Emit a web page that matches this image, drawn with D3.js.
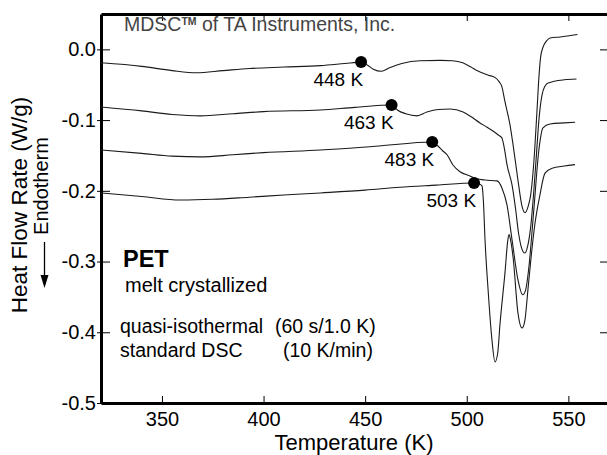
<!DOCTYPE html>
<html>
<head>
<meta charset="utf-8">
<script src="https://cdn.jsdelivr.net/npm/d3@7"></script>
<style>
  html, body { margin: 0; padding: 0; background: #fff; }
  svg { display: block; font-family: "Liberation Sans", Arial, sans-serif; }
</style>
</head>
<body>
<svg id="chart" width="607" height="455"></svg>
<script>
// ---------------- data ----------------
const curve448 = [[320,-0.019],[340,-0.024],[355,-0.030],[367,-0.033],[380,-0.030],[393,-0.027],[410,-0.025],[428,-0.023],[440,-0.020],[448,-0.018],[451,-0.022],[454,-0.028],[458,-0.031],[462,-0.026],[468,-0.020],[477,-0.016],[487,-0.0155],[493,-0.016],[498,-0.019],[502,-0.025],[505,-0.030],[510,-0.036],[514,-0.040],[516,-0.046],[517.3,-0.053],[518.8,-0.074],[521.3,-0.107],[522.8,-0.135],[525.2,-0.185],[527.2,-0.222],[528.7,-0.231],[530.2,-0.222],[531.5,-0.205],[533,-0.16],[534.5,-0.09],[535.5,-0.04],[536.3,-0.012],[537.5,0.003],[539,0.011],[541,0.016],[546,0.0175],[554.5,0.021]];
const curve463 = [[320,-0.0815],[340,-0.087],[355,-0.092],[369,-0.094],[385,-0.091],[400,-0.088],[428,-0.0857],[445,-0.082],[463.2,-0.0787],[466,-0.086],[470,-0.091],[475.5,-0.094],[480.4,-0.0886],[486,-0.085],[491.8,-0.0843],[498.2,-0.0886],[502,-0.095],[506.5,-0.104],[510,-0.110],[512.9,-0.1155],[515.5,-0.121],[517.3,-0.1253],[518.5,-0.14],[519.8,-0.163],[522.3,-0.192],[524,-0.225],[525.5,-0.26],[527,-0.281],[528.6,-0.288],[530,-0.278],[531.5,-0.25],[533,-0.2],[534.5,-0.14],[535.5,-0.1],[537,-0.065],[538.5,-0.052],[540,-0.0476],[548,-0.043],[554,-0.042]];
const curve483 = [[320,-0.1423],[340,-0.147],[355,-0.151],[369,-0.152],[385,-0.149],[400,-0.146],[428,-0.1423],[455,-0.137],[483.4,-0.131],[485.8,-0.1366],[488,-0.143],[490.3,-0.149],[493.2,-0.1635],[496.7,-0.173],[501.6,-0.179],[505,-0.183],[509,-0.1848],[514.9,-0.186],[517.3,-0.196],[519.8,-0.22],[522.3,-0.2695],[525.2,-0.326],[527.5,-0.347],[529,-0.34],[530.5,-0.31],[533,-0.227],[535.5,-0.142],[537.5,-0.111],[541,-0.1055],[548,-0.104],[553.3,-0.103]];
const curve503 = [[320,-0.203],[340,-0.208],[359,-0.213],[375,-0.212],[393,-0.209],[410,-0.206],[428,-0.203],[450,-0.199],[467,-0.195],[485,-0.192],[503.6,-0.189],[506,-0.190],[507.5,-0.193],[508.2,-0.215],[509,-0.270],[510.5,-0.340],[512.4,-0.411],[513.9,-0.442],[515.2,-0.43],[516.4,-0.387],[518.8,-0.316],[520.2,-0.27],[520.8,-0.262],[521.6,-0.27],[522.8,-0.294],[525.2,-0.373],[527.2,-0.394],[528.5,-0.385],[530.1,-0.340],[531.8,-0.29],[533.6,-0.2455],[536,-0.206],[538.5,-0.175],[542,-0.168],[548,-0.165],[553.3,-0.163]];

const dotTemps  = [448, 463, 483, 503.6];
const dotValues = [-0.018, -0.0787, -0.131, -0.189];
const dotLabels = ["448 K", "463 K", "483 K", "503 K"];

const xMajorTicks = [350, 400, 450, 500, 550];
const xMinorTicks = [330, 340, 360, 370, 380, 390, 410, 420, 430, 440, 460, 470, 480, 490, 510, 520, 530, 540, 560];
const yMajorTicks = [0.0, -0.1, -0.2, -0.3, -0.4, -0.5];
const yMinorTicks = [0.04, 0.02, -0.02, -0.04, -0.06, -0.08, -0.12, -0.14, -0.16, -0.18, -0.22, -0.24, -0.26, -0.28, -0.32, -0.34, -0.36, -0.38, -0.42, -0.44, -0.46, -0.48];

// ---------------- layout ----------------
const svg = d3.select("#chart");
const L = 101, R = 609, T = 14, B = 403;
const x = d3.scaleLinear().domain([320, 570]).range([L, R]);
const y = d3.scaleLinear().domain([-0.5, 0.05]).range([B, T]);

const fmtY = v => (Math.abs(v) < 1e-9 ? "0.0" : v.toFixed(1));

// bottom axis
const gB = svg.append("g").attr("transform", `translate(0,${B})`);
gB.call(d3.axisBottom(x).tickValues(xMinorTicks).tickSize(-3.5).tickFormat(""));
gB.call(d3.axisBottom(x).tickValues(xMajorTicks).tickSize(-7).tickSizeOuter(0).tickPadding(9).tickFormat(d3.format("d")));
// top axis
const gT = svg.append("g").attr("transform", `translate(0,${T})`);
gT.call(d3.axisTop(x).tickValues(xMinorTicks).tickSize(-3.5).tickFormat(""));
gT.call(d3.axisTop(x).tickValues(xMajorTicks).tickSize(-7).tickSizeOuter(0).tickFormat(""));
// left axis
const gL = svg.append("g").attr("transform", `translate(${L},0)`);
gL.call(d3.axisLeft(y).tickValues(yMinorTicks).tickSize(-5).tickFormat(""));
gL.call(d3.axisLeft(y).tickValues(yMajorTicks).tickSize(-9).tickSizeOuter(0).tickPadding(5).tickFormat(fmtY));
gL.selectAll(".tick line").filter(function(){ return +d3.select(this).attr("x2") === 9; }).attr("x1", -4);
// right axis
const gR = svg.append("g").attr("transform", `translate(${R},0)`);
gR.call(d3.axisRight(y).tickValues(yMinorTicks).tickSize(-4).tickFormat(""));
gR.call(d3.axisRight(y).tickValues(yMajorTicks).tickSize(-9).tickSizeOuter(0).tickFormat(""));

svg.selectAll(".domain").attr("stroke", "#000").attr("stroke-width", 3);
svg.selectAll(".tick line").attr("stroke", "#000").attr("stroke-width", 1);
svg.selectAll(".tick text").attr("font-size", 20).attr("fill", "#000")
   .attr("font-family", "'Liberation Sans', Arial, sans-serif");

// ---------------- curves ----------------
const line = d3.line().x(d => x(d[0])).y(d => y(d[1])).curve(d3.curveMonotoneX);
[curve448, curve463, curve483, curve503].forEach(c => {
  svg.append("path").datum(c).attr("d", line)
     .attr("fill", "none").attr("stroke", "#1a1a1a").attr("stroke-width", 1.1)
     .attr("stroke-linejoin", "round");
});

// dots + labels
dotTemps.forEach((t, i) => {
  svg.append("circle").attr("cx", x(t)).attr("cy", y(dotValues[i])).attr("r", 6).attr("fill", "#000");
  svg.append("text").attr("x", x(t) + 2).attr("y", y(dotValues[i]) + 24)
     .attr("text-anchor", "end").attr("font-size", 19).text(dotLabels[i]);
});

// ---------------- texts ----------------
const mdsc = svg.append("text").attr("x", 124).attr("y", 31).attr("font-size", 19.5).attr("fill", "#444");
mdsc.append("tspan").text("MDSC");
mdsc.append("tspan").attr("font-size", 10.5).attr("font-weight", "bold").attr("dy", -6).text("TM");
mdsc.append("tspan").attr("dy", 6).text(" of TA Instruments, Inc.");

svg.append("text").attr("x", 123).attr("y", 267).attr("font-size", 23.5).attr("font-weight", "bold").text("PET");
svg.append("text").attr("x", 125).attr("y", 292).attr("font-size", 20).text("melt crystallized");
svg.append("text").attr("x", 120).attr("y", 333).attr("font-size", 19.5).text("quasi-isothermal");
svg.append("text").attr("x", 275).attr("y", 333).attr("font-size", 19.5).text("(60 s/1.0 K)");
svg.append("text").attr("x", 120).attr("y", 357).attr("font-size", 19.5).text("standard DSC");
svg.append("text").attr("x", 283).attr("y", 357).attr("font-size", 19.5).text("(10 K/min)");

// axis titles
svg.append("text").attr("x", 354).attr("y", 450).attr("text-anchor", "middle")
   .attr("font-size", 22).text("Temperature  (K)");
svg.append("text").attr("transform", "translate(27,205) rotate(-90)").attr("text-anchor", "middle")
   .attr("font-size", 22.5).text("Heat Flow Rate  (W/g)");
svg.append("text").attr("transform", "translate(48,186) rotate(-90)").attr("text-anchor", "middle")
   .attr("font-size", 20).text("Endotherm");
// arrow
svg.append("line").attr("x1", 44.5).attr("y1", 242).attr("x2", 44.5).attr("y2", 278)
   .attr("stroke", "#000").attr("stroke-width", 1.3);
svg.append("path").attr("d", "M40.5,275 L48.5,275 L44.5,288 Z").attr("fill", "#000");
</script>
</body>
</html>
